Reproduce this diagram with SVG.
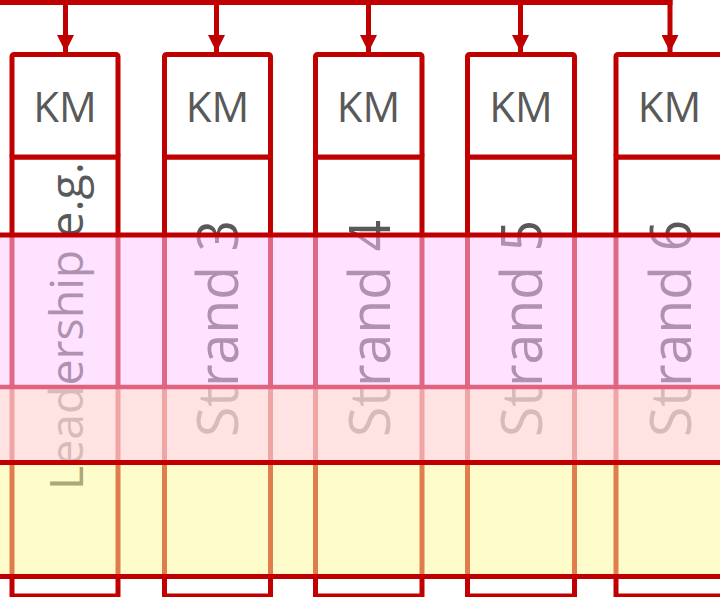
<svg xmlns="http://www.w3.org/2000/svg" width="720" height="597" viewBox="0 0 720 597">
  <defs>
    <style>
      .box { fill: #ffffff; stroke: #c00000; stroke-width: 5; }
      .km { font-family: "Open Sans", "Noto Sans", sans-serif; font-size: 42px; fill: #595959; text-anchor: middle; }
      .strand { font-family: "Open Sans", "Noto Sans", sans-serif; font-size: 56px; fill: #595959; text-anchor: middle; }
      .conn { stroke: #c00000; stroke-width: 5; fill: none; }
      .hl { stroke: #c00000; stroke-width: 5; }
    </style>
    <marker id="arrow" viewBox="0 0 10 10" refX="10" refY="5" markerWidth="3.4" markerHeight="3.4" markerUnits="strokeWidth" orient="auto">
      <path d="M0,0 L10,5 L0,10 Z" fill="#c00000"/>
    </marker>
  </defs>

  <g id="connectors">
    <path class="conn" d="M0,2.5 H672.5"/>
    <line class="conn" x1="65.5" y1="2" x2="65.5" y2="52" marker-end="url(#arrow)"/>
    <line class="conn" x1="216.5" y1="2" x2="216.5" y2="52" marker-end="url(#arrow)"/>
    <line class="conn" x1="368.5" y1="2" x2="368.5" y2="52" marker-end="url(#arrow)"/>
    <line class="conn" x1="520.5" y1="2" x2="520.5" y2="52" marker-end="url(#arrow)"/>
    <line class="conn" x1="670" y1="0" x2="670" y2="52" marker-end="url(#arrow)"/>
  </g>

  <g id="col1">
    <rect class="box" x="12" y="157" width="106" height="439"/>
    <rect class="box" x="12" y="54.5" width="106" height="102.5" rx="2"/>
    <text class="km" x="65" y="122">KM</text>
    <text class="strand" style="font-size:46px" transform="translate(83,326) rotate(-90)" textLength="328" lengthAdjust="spacingAndGlyphs">Leadership e.g.</text>
  </g>
  <g id="col2">
    <rect class="box" x="164.5" y="157" width="106" height="439"/>
    <rect class="box" x="164.5" y="54.5" width="106" height="102.5" rx="2"/>
    <text class="km" x="217.5" y="122">KM</text>
    <text class="strand" transform="translate(238,328.5) rotate(-90)" textLength="217" lengthAdjust="spacingAndGlyphs">Strand 3</text>
  </g>
  <g id="col3">
    <rect class="box" x="315.5" y="157" width="106.5" height="439"/>
    <rect class="box" x="315.5" y="54.5" width="106.5" height="102.5" rx="2"/>
    <text class="km" x="368.5" y="122">KM</text>
    <text class="strand" transform="translate(390,328.5) rotate(-90)" textLength="217" lengthAdjust="spacingAndGlyphs">Strand 4</text>
  </g>
  <g id="col4">
    <rect class="box" x="467.5" y="157" width="107" height="439"/>
    <rect class="box" x="467.5" y="54.5" width="107" height="102.5" rx="2"/>
    <text class="km" x="521" y="122">KM</text>
    <text class="strand" transform="translate(541.5,328.5) rotate(-90)" textLength="217" lengthAdjust="spacingAndGlyphs">Strand 5</text>
  </g>
  <g id="col5">
    <rect class="box" x="616" y="157" width="108" height="439"/>
    <rect class="box" x="616" y="54.5" width="108" height="102.5" rx="2"/>
    <text class="km" x="669.5" y="122">KM</text>
    <text class="strand" transform="translate(691,328.5) rotate(-90)" textLength="217" lengthAdjust="spacingAndGlyphs">Strand 6</text>
  </g>

  <g id="bands">
    <rect x="0" y="235" width="720" height="152" fill="rgb(255,199,255)" fill-opacity="0.52"/>
    <rect x="0" y="387" width="720" height="75" fill="rgb(255,217,217)" fill-opacity="0.76"/>
    <rect x="0" y="462" width="720" height="115" fill="rgb(255,250,153)" fill-opacity="0.5"/>
    <line class="hl" x1="0" y1="235" x2="720" y2="235"/>
    <line x1="0" y1="387" x2="720" y2="387" stroke="#e0647f" stroke-width="4.5"/>
    <line class="hl" x1="0" y1="462.5" x2="720" y2="462.5"/>
    <line class="hl" x1="0" y1="576.5" x2="720" y2="576.5"/>
  </g>
</svg>
